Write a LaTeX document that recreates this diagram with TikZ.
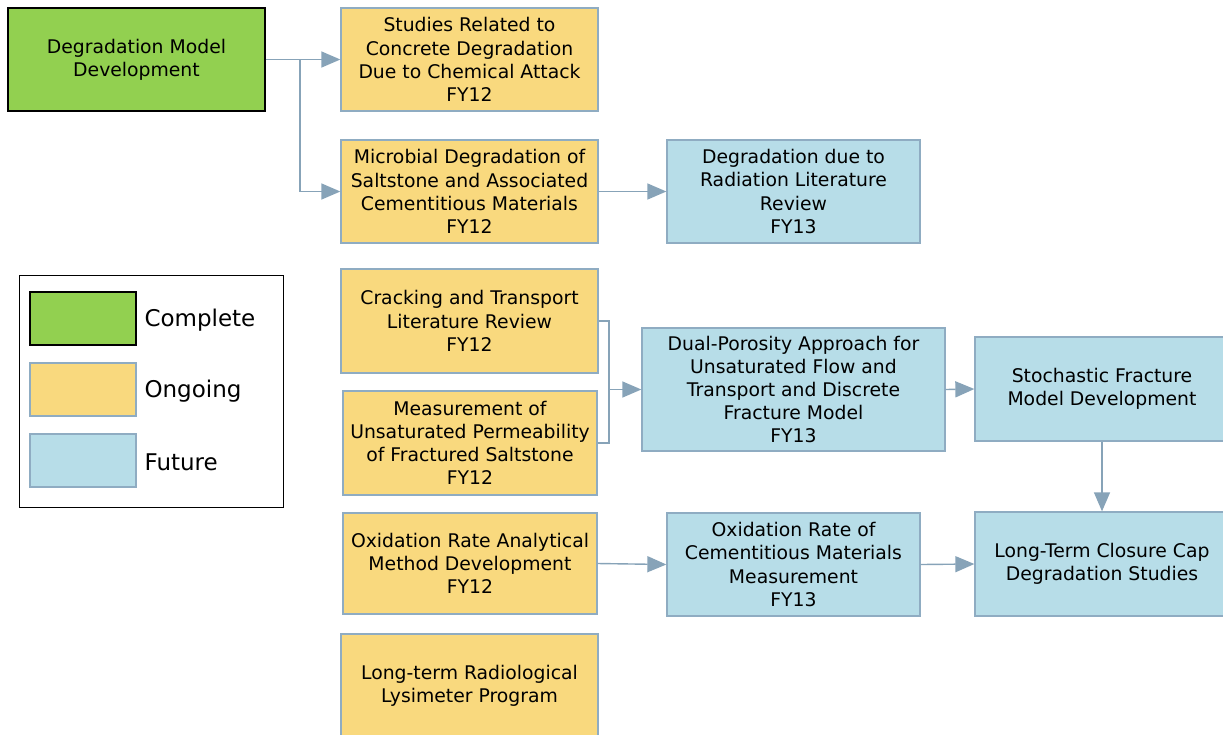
\documentclass[tikz,border=0pt]{standalone}
\usepackage{fontspec}
\setmainfont{DejaVu Sans}
\usetikzlibrary{arrows.meta}
\definecolor{donegreen}{HTML}{92D050}
\definecolor{ongoingfill}{HTML}{F9D97E}
\definecolor{futurefill}{HTML}{B7DDE8}
\definecolor{boxedge}{HTML}{8FACC2}
\definecolor{linkcol}{HTML}{87A3B8}
\tikzset{
  box/.style={draw=boxedge, line width=1.3pt, align=center, inner sep=0pt,
    font=\fontsize{18.8}{23.2}\selectfont},
  complete/.style={box, draw=black, fill=donegreen},
  ongoing/.style={box, fill=ongoingfill},
  future/.style={box, fill=futurefill},
  link/.style={draw=linkcol, line width=1.4pt},
  linkarrow/.style={link, -{Triangle[length=19pt,width=16pt]}},
  legtext/.style={anchor=west, font=\fontsize{23}{27}\selectfont}
}
\begin{document}
\begin{tikzpicture}[x=1pt, y=-1pt]
\useasboundingbox (0,0) rectangle (1223,734);

% task boxes
\node[complete, minimum width=257pt, minimum height=103pt] (model) at (136.5,59.5) {Degradation Model\\Development};
\node[ongoing, minimum width=257pt, minimum height=103pt] (chem) at (469.5,59.5) {Studies Related to\\Concrete Degradation\\Due to Chemical Attack\\FY12};
\node[ongoing, minimum width=257pt, minimum height=103pt] (micro) at (469.5,191.5) {Microbial Degradation of\\Saltstone and Associated\\Cementitious Materials\\FY12};
\node[future, minimum width=253pt, minimum height=103pt] (rad) at (793.5,191.5) {Degradation due to\\Radiation Literature\\Review\\FY13};
\node[ongoing, minimum width=257pt, minimum height=104pt] (crack) at (469.5,321) {Cracking and Transport\\Literature Review\\FY12};
\node[ongoing, minimum width=254pt, minimum height=104pt] (perm) at (470,443) {Measurement of\\Unsaturated Permeability\\of Fractured Saltstone\\FY12};
\node[future, minimum width=303pt, minimum height=123pt] (dual) at (793.5,389.5) {Dual-Porosity Approach for\\Unsaturated Flow and\\Transport and Discrete\\Fracture Model\\FY13};
\node[future, minimum width=254pt, minimum height=104pt] (stoch) at (1102,389) {Stochastic Fracture\\Model Development};
\node[ongoing, minimum width=254pt, minimum height=101pt] (oxmeth) at (470,563.5) {Oxidation Rate Analytical\\Method Development\\FY12};
\node[future, minimum width=253pt, minimum height=103pt] (oxrate) at (793.5,564.5) {Oxidation Rate of\\Cementitious Materials\\Measurement\\FY13};
\node[future, minimum width=254pt, minimum height=104pt] (cap) at (1102,564) {Long-Term Closure Cap\\Degradation Studies};
\node[ongoing, minimum width=257pt, minimum height=103pt] (lysi) at (469.5,685.5) {Long-term Radiological\\Lysimeter Program};

% connectors
\coordinate (split) at (300,59.5);
\draw[linkarrow] (model.east) -- (chem.west);
\draw[linkarrow] (split) |- (micro.west);
\draw[linkarrow] (micro.east) -- (rad.west);
\coordinate (merge) at (609,389.5);
\draw[link] (crack.east) -| (merge);
\draw[link] (perm.east) -| (merge);
\draw[linkarrow] (merge) -- (dual.west);
\draw[linkarrow] (dual.east) -- (stoch.west);
\draw[linkarrow] (stoch.south) -- (cap.north);
\draw[linkarrow] (oxmeth.east) -- (oxrate.west);
\draw[linkarrow] (oxrate.east) -- (cap.west);

% legend
\node[draw=black, line width=1pt, minimum width=264pt, minimum height=232pt, inner sep=0pt] (legend) at (151,391) {};
\node[complete, minimum width=106pt, minimum height=53pt] (legdone) at (83,318.5) {};
\node[ongoing, minimum width=106pt, minimum height=53pt] (legon) at (83,389.5) {};
\node[future, minimum width=106pt, minimum height=53pt] (legfut) at (83,460.5) {};
\node[legtext] (legdonetxt) at (141,320) {Complete};
\node[legtext] (legontxt) at (141,391) {Ongoing};
\node[legtext] (legfuttxt) at (141,462) {Future};
\end{tikzpicture}
\end{document}
